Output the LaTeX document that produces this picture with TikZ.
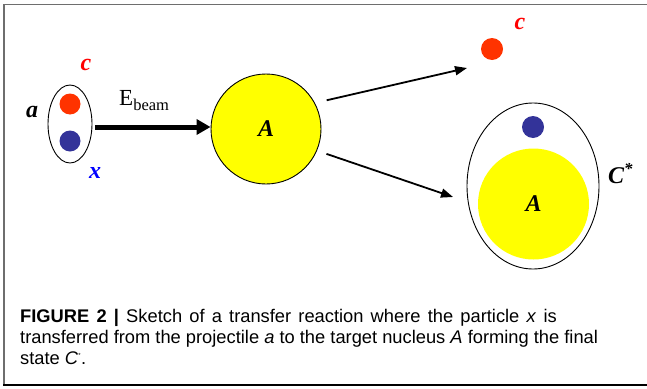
\documentclass[tikz,border=0pt]{standalone}
\usepackage{fontspec}
\setmainfont{Liberation Serif}
\newfontfamily\capfont{Liberation Sans}
\usetikzlibrary{arrows.meta,shapes.geometric}
\definecolor{dotred}{RGB}{255,51,0}
\definecolor{dotblue}{RGB}{51,51,153}
\definecolor{nucyellow}{RGB}{255,255,0}
\definecolor{framegray}{RGB}{110,110,110}
\begin{document}
\begin{tikzpicture}[x=1pt,y=-1pt,
  dot/.style={circle,inner sep=0pt,minimum size=#1},
  shell/.style={ellipse,draw=black,line width=0.9pt,inner sep=0pt},
  lab/.style={font=\fontsize{24}{26}\selectfont\bfseries\itshape,inner sep=0pt},
  thinarrow/.style={line width=1.8pt,-{Triangle[length=12pt,width=9pt]}},
  beamarrow/.style={line width=5pt,-{Triangle[length=14pt,width=15pt]}},
  captext/.style={font=\capfont\fontsize{18.3}{21}\selectfont,anchor=base west,inner sep=0pt}]
\useasboundingbox (0,0) rectangle (647,388);
% frame
\draw[framegray,line width=1.6pt] (4,385) -- (4,4.5) -- (647,4.5);
\draw[black,line width=1.4pt] (3,385) -- (647,385);
% projectile a
\node[shell,minimum width=44pt,minimum height=78pt] (aell) at (70,124) {};
\node[dot=21pt,fill=dotred] (ca) at (70,104) {};
\node[dot=21pt,fill=dotblue] (xa) at (70,141) {};
\node[lab] (alab) at (32,112) {a};
\node[lab,text=red] (clab1) at (86,65) {c};
\node[lab,text=blue] (xlab) at (95,173) {x};
% target A
\node[circle,draw=black,line width=0.9pt,fill=nucyellow,minimum size=110pt,inner sep=0pt,lab] (A) at (266,129) {A};
\draw[beamarrow] (aell.east |- 0,127) ++(3,0) -- (A.west |- 0,127);
\node[font=\fontsize{23}{25}\selectfont,anchor=base west,inner sep=0pt] (ebeam) at (119,105) {E\raisebox{-5pt}{\fontsize{16.5}{17}\selectfont beam}};
% ejectile c
\node[dot=22pt,fill=dotred] (cout) at (492,49) {};
\node[lab,text=red] (clab2) at (520,24) {c};
% final state C*
\node[shell,minimum width=132pt,minimum height=166pt] (Cell) at (533,186) {};
\node[dot=22pt,fill=dotblue] (xC) at (533,127) {};
\node[circle,fill=nucyellow,minimum size=111pt,inner sep=0pt,lab] (AC) at (533.5,204) {A};
\node[lab,anchor=west] (Clab) at (608,174) {C\textsuperscript{*}};
% reaction arrows
\coordinate (t1) at (467,68);
\coordinate (t2) at (453,197);
\draw[thinarrow,shorten <=12pt] (A.28) -- (t1);
\draw[thinarrow,shorten <=10pt] (A.-23) -- (t2);
% caption
\node[captext] (cap1) at (20,322) {\spaceskip=7.2pt plus 1pt\textbf{FIGURE 2 |} Sketch of a transfer reaction where the particle \textit{x} is};
\node[captext] (cap2) at (20,343) {transferred from the projectile \textit{a} to the target nucleus \textit{A} forming the final};
\node[captext] (cap3) at (20,364) {state \textit{C}\textsuperscript{\fontsize{6}{6}\selectfont *}.};
\end{tikzpicture}
\end{document}
